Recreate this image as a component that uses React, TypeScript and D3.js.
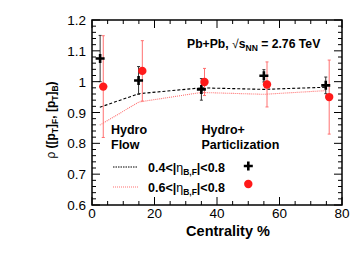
import React from 'react';
import * as d3 from 'd3';

// model curves (hydro flow / hydro + particlization)
const centralityModel = [2.5, 15, 35, 55, 75];
const hydroEta04 = [0.917, 0.961, 0.98, 0.975, 0.982];
const hydroEta06 = [0.859, 0.934, 0.965, 0.959, 0.971];

// data points
const centrality04 = [2.6, 14.9, 35, 55, 74.8];
const rho04 = [1.075, 1.004, 0.975, 1.019, 0.988];
const err04 = [0.075, 0.045, 0.035, 0.02, 0.027];

const centrality06 = [3.6, 16.1, 36, 56, 75.9];
const rho06 = [0.984, 1.035, 0.999, 0.991, 0.95];
const err06 = [0.165, 0.098, 0.044, 0.073, 0.12];

const xTicks = [0, 20, 40, 60, 80];
const yTicks = [0.6, 0.7, 0.8, 0.9, 1, 1.1, 1.2];
const yTickLabels = ['0.6', '0.7', '0.8', '0.9', '1', '1.1', '1.2'];

const W = 355, H = 266;
const left = 92, right = 342, top = 20, bottom = 205;
const font = '"Liberation Sans", Arial, Helvetica, sans-serif';
const red = '#ff1a1a';
const lightRed = '#ff7070';

class App extends React.Component {
    render() {
        let x = d3.scaleLinear().domain([0, 80]).range([left, right]);
        let y = d3.scaleLinear().domain([0.6, 1.2]).range([bottom, top]);

        let line = d3.line<number>()
            .x((d, i) => x(centralityModel[i]))
            .y(d => y(d));

        let xMinor = d3.range(0, 80.01, 5);
        let yMinor = d3.range(0.6, 1.2001, 0.02);

        let ticks: any[] = [];
        xMinor.forEach((v, i) => {
            let len = Math.abs(v % 20) < 0.01 ? 8 : 4;
            ticks.push(<line key={'xb' + i} x1={x(v)} x2={x(v)} y1={bottom} y2={bottom - len} />);
            ticks.push(<line key={'xt' + i} x1={x(v)} x2={x(v)} y1={top} y2={top + len} />);
        });
        yMinor.forEach((v, i) => {
            let len = i % 5 === 0 ? 8 : 4;
            ticks.push(<line key={'yl' + i} x1={left} x2={left + len} y1={y(v)} y2={y(v)} />);
            ticks.push(<line key={'yr' + i} x1={right} x2={right - len} y1={y(v)} y2={y(v)} />);
        });

        return (
            <svg width={W} height={H} style={{position: 'absolute', left: 0, top: 0, background: '#fff'}}
                 fontFamily={font}>
                {/* model curves */}
                <path d={line(hydroEta04) || ''} fill="none" stroke="#000" strokeWidth={1.1} strokeDasharray="3,2" />
                <path d={line(hydroEta06) || ''} fill="none" stroke={lightRed} strokeWidth={1.1} strokeDasharray="1,1" />

                {/* error bars */}
                {rho04.map((v, i) => (
                    <g key={'e4' + i} stroke="#333" strokeWidth={1}>
                        <line x1={x(centrality04[i])} x2={x(centrality04[i])} y1={y(v + err04[i])} y2={y(v - err04[i])} />
                        <line x1={x(centrality04[i]) - 1.5} x2={x(centrality04[i]) + 1.5} y1={y(v + err04[i])} y2={y(v + err04[i])} />
                        <line x1={x(centrality04[i]) - 1.5} x2={x(centrality04[i]) + 1.5} y1={y(v - err04[i])} y2={y(v - err04[i])} />
                    </g>
                ))}
                {rho06.map((v, i) => (
                    <g key={'e6' + i} stroke={lightRed} strokeWidth={1}>
                        <line x1={x(centrality06[i])} x2={x(centrality06[i])} y1={y(v + err06[i])} y2={y(v - err06[i])} />
                        <line x1={x(centrality06[i]) - 1.5} x2={x(centrality06[i]) + 1.5} y1={y(v + err06[i])} y2={y(v + err06[i])} />
                        <line x1={x(centrality06[i]) - 1.5} x2={x(centrality06[i]) + 1.5} y1={y(v - err06[i])} y2={y(v - err06[i])} />
                    </g>
                ))}

                {/* markers */}
                {rho04.map((v, i) => (
                    <path key={'m4' + i}
                          d={`M${x(centrality04[i]) - 4.5},${y(v)}h9M${x(centrality04[i])},${y(v) - 4.5}v9`}
                          stroke="#000" strokeWidth={2.6} />
                ))}
                {rho06.map((v, i) => (
                    <circle key={'m6' + i} cx={x(centrality06[i])} cy={y(v)} r={4.2} fill={red} />
                ))}

                {/* frame + ticks */}
                <g stroke="#000" strokeWidth={1}>{ticks}</g>
                <rect x={left} y={top} width={right - left} height={bottom - top} fill="none" stroke="#000" strokeWidth={1.5} />

                {/* tick labels */}
                {yTicks.map((v, i) => (
                    <text key={'yl' + i} x={left - 6} y={y(v) + 5} textAnchor="end" fontSize={13.5} fill="#000">
                        {yTickLabels[i]}
                    </text>
                ))}
                {xTicks.map((v, i) => (
                    <text key={'xl' + i} x={x(v)} y={bottom + 13} textAnchor="middle" fontSize={13.5} fill="#000">
                        {v}
                    </text>
                ))}

                {/* axis titles */}
                <text x={228} y={236} textAnchor="middle" fontSize={14.5} fontWeight="bold">Centrality %</text>
                <text transform="translate(55,120) rotate(-90)" textAnchor="middle" fontSize={12} fontWeight="bold">
                    <tspan fontWeight="normal">ρ</tspan> ([p<tspan fontSize={8.5} dy={3}>T</tspan><tspan dy={-3}>]</tspan>
                    <tspan fontSize={8.5} dy={3}>F</tspan><tspan dy={-3}>, [p</tspan><tspan fontSize={8.5} dy={3}>T</tspan>
                    <tspan dy={-3}>]</tspan><tspan fontSize={8.5} dy={3}>B</tspan><tspan dy={-3}>)</tspan>
                </text>

                {/* annotations */}
                <text x={187} y={48} fontSize={12.2} fontWeight="bold">
                    Pb+Pb, <tspan fontWeight="normal">√</tspan>s<tspan fontSize={8.5} dy={3}>NN</tspan><tspan dy={-3}> = 2.76 TeV</tspan>
                </text>
                <text x={111} y={134} fontSize={12.5} fontWeight="bold">Hydro</text>
                <text x={111} y={148.5} fontSize={12.5} fontWeight="bold">Flow</text>
                <text x={201.5} y={134} fontSize={12.5} fontWeight="bold">Hydro+</text>
                <text x={201.5} y={148.5} fontSize={12.5} fontWeight="bold">Particlization</text>

                {/* legend */}
                <line x1={113} x2={138} y1={167} y2={167} stroke="#000" strokeWidth={1} strokeDasharray="1.5,1" />
                <text x={148} y={171.5} fontSize={12.5} fontWeight="bold">
                    0.4&lt;|<tspan fontWeight="normal">η</tspan><tspan fontSize={8.5} dy={3}>B,F</tspan><tspan dy={-3}>|&lt;0.8</tspan>
                </text>
                <path d="M243.8,166h9M248.3,161.5v9" stroke="#000" strokeWidth={2.6} />
                <line x1={113} x2={138} y1={187} y2={187} stroke={lightRed} strokeWidth={1.2} strokeDasharray="1,1" />
                <text x={148} y={192} fontSize={12.5} fontWeight="bold">
                    0.6&lt;|<tspan fontWeight="normal">η</tspan><tspan fontSize={8.5} dy={3}>B,F</tspan><tspan dy={-3}>|&lt;0.8</tspan>
                </text>
                <circle cx={248.3} cy={184} r={4.2} fill={red} />
            </svg>
        );
    }
}

export default App;
